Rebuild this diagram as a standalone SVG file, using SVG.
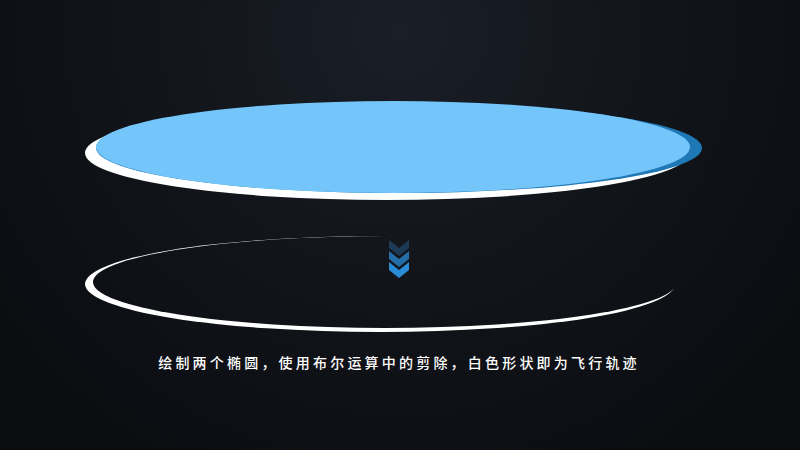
<svg xmlns="http://www.w3.org/2000/svg" width="800" height="450" viewBox="0 0 800 450">
  <defs>
    <radialGradient id="bg" cx="400" cy="30" r="520" gradientUnits="userSpaceOnUse">
      <stop offset="0" stop-color="#1a1e27"/>
      <stop offset="0.5" stop-color="#111419"/>
      <stop offset="1" stop-color="#0a0c10"/>
    </radialGradient>
    <mask id="ringMask" maskUnits="userSpaceOnUse" x="0" y="0" width="800" height="450">
      <ellipse cx="380" cy="284" rx="295" ry="48" fill="#fff"/>
      <ellipse cx="385" cy="282" rx="292" ry="46" fill="#000"/>
      <rect x="392" y="220" width="400" height="45" fill="#000"/>
    </mask>
    <style>
      .label { font-family: "Noto Sans CJK SC", "Noto Sans", sans-serif; font-size: 14px; font-weight: 500; fill: #ffffff; letter-spacing: 3.2px; }
    </style>
  </defs>
  <rect width="800" height="450" fill="url(#bg)"/>

  <g id="top-ellipse">
    <ellipse cx="387" cy="153" rx="302" ry="47" fill="#ffffff"/>
    <ellipse cx="399" cy="148" rx="303" ry="45" fill="#1f78b6"/>
    <ellipse cx="393" cy="147" rx="297" ry="46" fill="#74c5fa"/>
  </g>

  <g id="orbit-ring">
    <rect x="0" y="200" width="800" height="160" fill="#ffffff" mask="url(#ringMask)"/>
  </g>

  <g id="arrow">
    <polygon points="389,240 399,248 409,240 409,248 399,256 389,248" fill="#1d3a57"/>
    <polygon points="389,251 399,259 409,251 409,259 399,267 389,259" fill="#236ea6"/>
    <polygon points="389,262 399,270 409,262 409,270 399,278 389,270" fill="#2a8bd6"/>
  </g>

  <g id="caption">
    <text class="label" x="399" y="368" text-anchor="middle">绘制两个椭圆，使用布尔运算中的剪除，白色形状即为飞行轨迹</text>
  </g>
</svg>
